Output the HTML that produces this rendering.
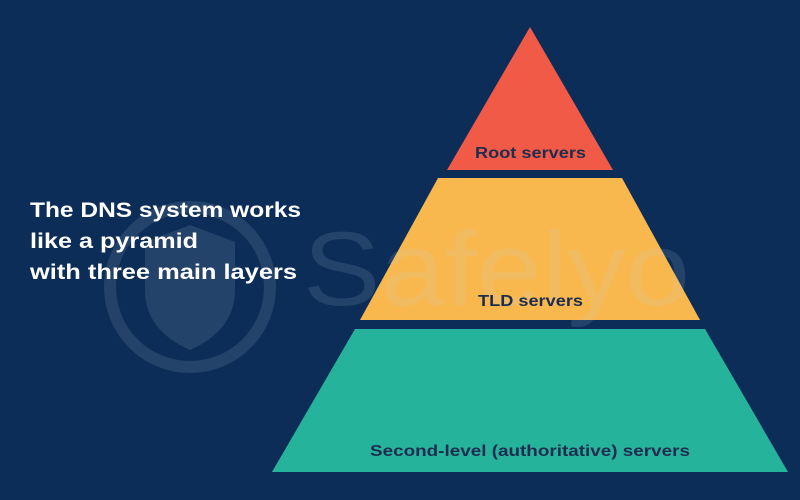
<!DOCTYPE html>
<html><head><style>
html,body{margin:0;padding:0;}
body{width:800px;height:500px;background:#0c2d57;overflow:hidden;position:relative;font-family:"Liberation Sans",sans-serif;}
</style></head><body>
<svg width="800" height="500" viewBox="0 0 800 500" xmlns="http://www.w3.org/2000/svg" style="position:absolute;left:0;top:0">
<rect width="800" height="500" fill="#0c2d57"/>
<polygon points="530,27 613,170 447,170" fill="#f05a47"/>
<polygon points="438,178 622,178 700,320 360,320" fill="#f8b84e"/>
<polygon points="355,329 705,329 788,472 272,472" fill="#26b39c"/>
<g opacity="0.13" fill="#c8d4e8">
<circle cx="190" cy="287" r="80" fill="none" stroke="#c8d4e8" stroke-width="12"/>
<path d="M190 225 L235 242 L235 290 Q235 330 190 350 Q145 330 145 290 L145 242 Z"/>
<text x="303" y="305" font-size="105" textLength="387" lengthAdjust="spacingAndGlyphs" font-family="Liberation Sans,sans-serif">Safelyo</text>
</g>
<g font-family="Liberation Sans,sans-serif" font-weight="bold" fill="#1e2d4f" lengthAdjust="spacingAndGlyphs">
<text x="475" y="158" font-size="16" textLength="111" lengthAdjust="spacingAndGlyphs">Root servers</text>
<text x="478" y="306" font-size="16" textLength="105" lengthAdjust="spacingAndGlyphs">TLD servers</text>
<text x="370" y="456" font-size="16" textLength="320" lengthAdjust="spacingAndGlyphs">Second-level (authoritative) servers</text>
</g>
<g font-family="Liberation Sans,sans-serif" font-weight="bold" fill="#ffffff" font-size="21">
<text x="30" y="217" textLength="271" lengthAdjust="spacingAndGlyphs">The DNS system works</text>
<text x="30" y="248" textLength="168" lengthAdjust="spacingAndGlyphs">like a pyramid</text>
<text x="30" y="279" textLength="267" lengthAdjust="spacingAndGlyphs">with three main layers</text>
</g>
</svg>
</body></html>
